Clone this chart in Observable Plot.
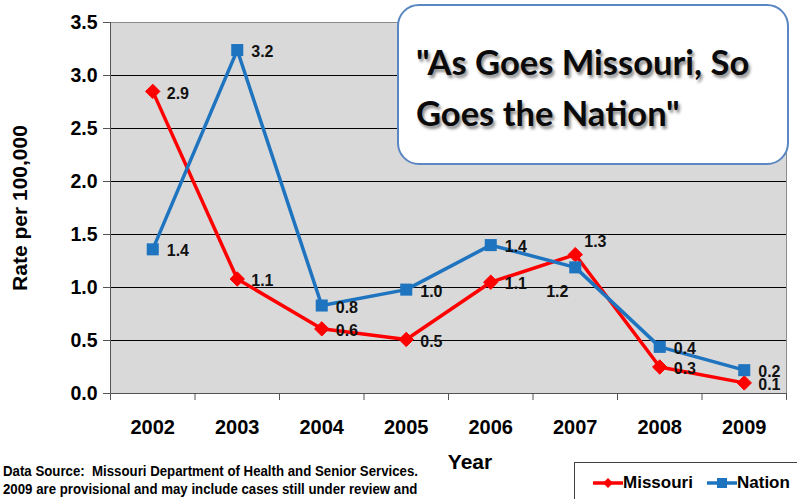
<!DOCTYPE html>
<html><head><meta charset="utf-8">
<script src="https://cdn.jsdelivr.net/npm/d3@7"></script>
<script src="https://cdn.jsdelivr.net/npm/@observablehq/plot@0.6"></script>
<style>
body{margin:0;background:#fff;}
#wrap{position:relative;width:797px;height:499px;overflow:hidden;font-family:"Liberation Sans",Arial,sans-serif;}
#wrap svg text{font-weight:bold;}
#callout{position:absolute;left:397px;top:4px;width:392px;height:161px;border:2px solid #5a86c2;border-radius:22px;background:#fff;box-sizing:border-box;}
#callout div{position:absolute;left:17px;font-family:Lato,"Open Sans",sans-serif;font-weight:bold;font-size:34.5px;color:#0a0a0a;text-shadow:2px 3px 3px rgba(0,0,0,0.45);white-space:nowrap;line-height:1;}
#legend{position:absolute;left:574px;top:462px;width:260px;height:60px;border:1px solid #404040;background:#fff;box-sizing:border-box;}
.li{position:absolute;top:10px;display:flex;align-items:center;font-size:17px;font-weight:bold;font-family:"Liberation Sans",Arial,sans-serif;color:#000;}
#xlabel{position:absolute;left:470px;top:450px;transform:translateX(-50%);font-size:21px;font-weight:bold;font-family:"Liberation Sans",sans-serif;}
#source{position:absolute;left:3px;top:462px;font-size:14px;line-height:18px;font-weight:bold;font-family:"Liberation Sans",sans-serif;white-space:nowrap;transform-origin:0 0;}
</style></head>
<body><div id="wrap"></div>
<script>
const years = [2002, 2003, 2004, 2005, 2006, 2007, 2008, 2009];
const missouri = [2.85, 1.08, 0.61, 0.51, 1.05, 1.31, 0.25, 0.10];
const nation = [1.36, 3.24, 0.83, 0.98, 1.40, 1.19, 0.44, 0.22];
const missouriLabels = ["2.9", "1.1", "0.6", "0.5", "1.1", "1.3", "0.3", "0.1"];
const nationLabels = ["1.4", "3.2", "0.8", "1.0", "1.4", "1.2", "0.4", "0.2"];
const yTicks = [0, 0.5, 1.0, 1.5, 2.0, 2.5, 3.0, 3.5];
const seriesNames = ["Missouri", "Nation"];
const callout = ["\"As Goes Missouri, So", "Goes the Nation\""];
const sourceLines = ["Data Source:  Missouri Department of Health and Senior Services.",
  "2009 are provisional and may include cases still under review and"];

const RED = "#ff0000", BLUE = "#1f74c0";
const mo = years.map((yr, i) => ({year: yr, value: missouri[i], label: missouriLabels[i]}));
const na = years.map((yr, i) => ({year: yr, value: nation[i], label: nationLabels[i]}));
const bounds = years.map(y => y - 0.5).concat([years[years.length - 1] + 0.5]);
const lo = bounds[0], hi = bounds[bounds.length - 1];
const font = {fontSize: 16, fontWeight: "bold", fill: "#111"};

const chart = Plot.plot({
  width: 797, height: 499,
  marginTop: 22, marginBottom: 106, marginLeft: 110, marginRight: 11,
  style: {fontFamily: "'Liberation Sans', Arial, sans-serif", background: "transparent", color: "#000"},
  x: {type: "linear", domain: [lo, hi]},
  y: {domain: [0, 3.5]},
  marks: [
    Plot.frame({fill: "#d9d9d9", stroke: "#8c8c8c"}),
    Plot.gridY(yTicks.filter(v => v > 0 && v < 3.5), {stroke: "#000", strokeOpacity: 1, strokeWidth: 1}),
    Plot.ruleX([lo], {stroke: "#555"}),
    Plot.ruleY([0], {stroke: "#555"}),
    Plot.axisY({ticks: yTicks, tickFormat: d3.format(".1f"), tickSize: 7, tickPadding: 6, fontSize: 19.5, stroke: "#555", label: null}),
    Plot.axisY({ticks: [], fontSize: 21, label: "Rate per 100,000", labelAnchor: "center", labelArrow: "none", labelOffset: 98}),
    Plot.axisX({ticks: bounds, tickFormat: () => "", tickSize: 7, stroke: "#555", label: null}),
    Plot.axisX({ticks: years, tickFormat: d => String(d), tickSize: 0, tickPadding: 26, fontSize: 20, label: null}),
    Plot.line(mo, {x: "year", y: "value", stroke: RED, strokeWidth: 3.5}),
    Plot.line(na, {x: "year", y: "value", stroke: BLUE, strokeWidth: 3.5}),
    Plot.dot(mo, {x: "year", y: "value", symbol: "diamond2", r: 6.5, fill: RED, stroke: RED, strokeWidth: 1}),
    Plot.dot(na, {x: "year", y: "value", symbol: "square", r: 6.8, fill: BLUE}),
    Plot.text(mo, {filter: d => d.year !== 2007, x: "year", y: "value", text: "label", textAnchor: "start", dx: 14, dy: 2, ...font}),
    Plot.text(na, {filter: d => d.year !== 2007, x: "year", y: "value", text: "label", textAnchor: "start", dx: 14, dy: 2, ...font}),
    Plot.text(mo, {filter: d => d.year === 2007, x: "year", y: "value", text: "label", textAnchor: "start", dx: 9, dy: -13, ...font}),
    Plot.text(na, {filter: d => d.year === 2007, x: "year", y: "value", text: "label", textAnchor: "middle", dx: -18, dy: 25, ...font})
  ]
});

const wrap = document.getElementById("wrap");
wrap.appendChild(chart);

const co = document.createElement("div");
co.id = "callout";
callout.forEach((t, i) => {
  const d = document.createElement("div");
  d.textContent = t;
  d.style.top = (i === 0 ? 39 : 90) + "px";
  co.appendChild(d);
});
wrap.appendChild(co);

const xl = document.createElement("div");
xl.id = "xlabel"; xl.textContent = "Year";
wrap.appendChild(xl);

const src = document.createElement("div");
src.id = "source";
src.innerHTML = sourceLines.map(s => s.replace(/  /g, "&nbsp; ")).join("<br>");
wrap.appendChild(src);
const w = src.getBoundingClientRect().width;
src.style.transform = `scaleX(${415 / w})`;

const lg = document.createElement("div");
lg.id = "legend";
const colors = [RED, BLUE];
const lefts = [18, 132];
seriesNames.forEach((name, i) => {
  const item = document.createElement("div");
  item.className = "li";
  item.style.left = lefts[i] + "px";
  const marker = i === 0
    ? `<polygon points="15,4 20,9 15,14 10,9" fill="${colors[i]}"/>`
    : `<rect x="10" y="4" width="10" height="10" fill="${colors[i]}"/>`;
  item.innerHTML = `<svg width="30" height="18"><line x1="0" y1="9" x2="30" y2="9" stroke="${colors[i]}" stroke-width="3.5"/>${marker}</svg><span>${name}</span>`;
  lg.appendChild(item);
});
wrap.appendChild(lg);
</script>
</body></html>
